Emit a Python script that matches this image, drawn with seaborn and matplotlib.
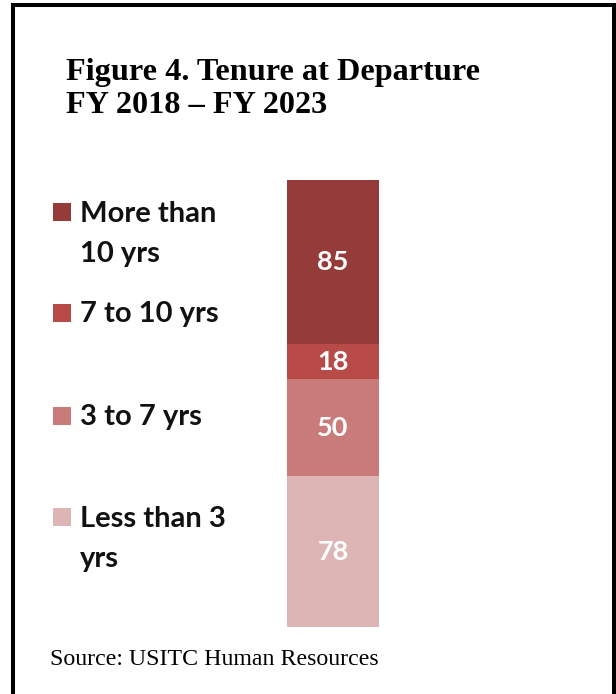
import matplotlib
matplotlib.use("Agg")
import matplotlib.pyplot as plt
from matplotlib.patches import Rectangle
import numpy as np
import pandas as pd
import seaborn as sns

# Tenure groups, bottom of the stack first
categories = ["Less than 3\nyrs", "3 to 7 yrs", "7 to 10 yrs", "More than\n10 yrs"]
departures = [78, 50, 18, 85]
colors = ["#DEB5B5", "#C97B7A", "#B84B48", "#953B3A"]

title_lines = ["Figure 4. Tenure at Departure", "FY 2018 \u2013 FY 2023"]
source = "Source: USITC Human Resources"

W, H = 616, 694
DPI = 100
sns.set_theme(style="white")
plt.rcParams["font.family"] = ["Lato", "DejaVu Sans"]

fig = plt.figure(figsize=(W / DPI, H / DPI), dpi=DPI)
fig.patch.set_facecolor("white")

def fx(px):
    return px / W

def fy(py):
    return 1 - py / H

# stacked column: cumulative totals drawn tallest first so each shorter bar covers the one beneath
bar_left, bar_right, bar_top, bar_bottom = 287, 379, 180, 627
ax = fig.add_axes([fx(bar_left), fy(bar_bottom), fx(bar_right - bar_left),
                   (bar_bottom - bar_top) / H])
cum = np.cumsum(departures)
df = pd.DataFrame({"group": ["FY 2018-2023"] * len(departures),
                   "total": cum, "cat": categories})
for i in range(len(departures) - 1, -1, -1):
    sns.barplot(data=df.iloc[[i]], x="group", y="total", color=colors[i],
                width=1.0, saturation=1, ax=ax, edgecolor="none", linewidth=0)
ax.set_xlim(-0.5, 0.5)
ax.set_ylim(0, cum[-1])
ax.axis("off")

starts = np.concatenate([[0], cum[:-1]])
for s, v in zip(starts, departures):
    ax.text(0, s + v / 2, f"{v}", ha="center", va="center", color="white",
            fontsize=19.5, fontweight="bold")

# legend, top entry first
legend_rows = [  # (marker top px, first-line baseline px)
    (203, 222),
    (304, 322),
    (407, 425),
    (508, 527),
]
line_step = 40
order = list(range(len(categories)))[::-1]
for (mtop, base), i in zip(legend_rows, order):
    fig.patches.append(Rectangle((fx(53), fy(mtop + 18)), fx(18), 18 / H,
                                 transform=fig.transFigure, facecolor=colors[i],
                                 edgecolor="none"))
    for k, line in enumerate(categories[i].split("\n")):
        fig.text(fx(80), fy(base + k * line_step), line, ha="left", va="baseline",
                 fontsize=21, fontweight="bold", color="#111111")

# title and source
for k, line in enumerate(title_lines):
    fig.text(fx(66), fy(80 + k * 33), line, ha="left", va="baseline",
             family="Liberation Serif", fontweight="bold", fontsize=23.2,
             color="black")
fig.text(fx(50), fy(665), source, ha="left", va="baseline",
         family="Liberation Serif", fontsize=17.2, color="black")

# frame around the figure
fig.patches.append(Rectangle((fx(13), fy(H + 10)), fx(613.5 - 13), (H + 10 - 4.5) / H,
                             transform=fig.transFigure, facecolor="none",
                             edgecolor="black", linewidth=2.9))

fig.savefig("out.png", dpi=DPI)
